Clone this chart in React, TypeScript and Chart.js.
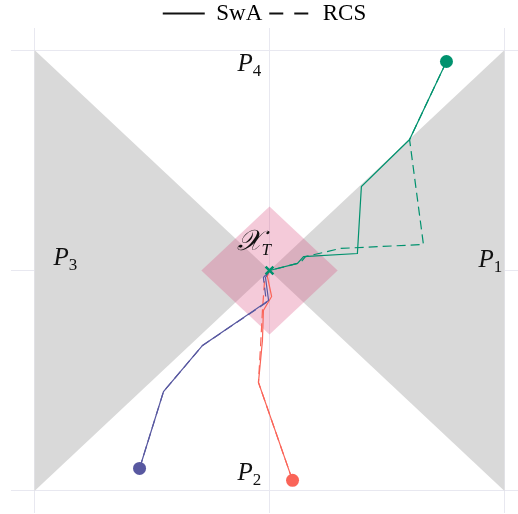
import React, { useEffect, useRef } from 'react';
import { Chart, registerables } from 'chart.js';

Chart.register(...registerables);

// ---- data ----
const legendNames = ['SwA', 'RCS'];
const gridTicks = [-1, 0, 1];

const leftWedge = [{ x: -1, y: 1 }, { x: 0, y: 0 }, { x: -1, y: -1 }];
const rightWedge = [{ x: 1, y: 1 }, { x: 0, y: 0 }, { x: 1, y: -1 }];
const targetSet = [{ x: 0, y: 0.29 }, { x: 0.29, y: 0 }, { x: 0, y: -0.29 }, { x: -0.29, y: 0 }];

const greenSwA = [
  { x: 0.753, y: 0.948 }, { x: 0.596, y: 0.594 }, { x: 0.391, y: 0.381 }, { x: 0.374, y: 0.077 },
  { x: 0.145, y: 0.063 }, { x: 0.119, y: 0.032 }, { x: 0, y: 0 },
];
const greenRCS = [
  { x: 0.753, y: 0.948 }, { x: 0.596, y: 0.594 }, { x: 0.655, y: 0.118 }, { x: 0.302, y: 0.1 },
  { x: 0.153, y: 0.063 }, { x: 0.132, y: 0.036 }, { x: 0, y: 0 },
];
const purpleSwA = [
  { x: -0.553, y: -0.898 }, { x: -0.451, y: -0.549 }, { x: -0.285, y: -0.34 }, { x: -0.004, y: -0.136 },
  { x: -0.017, y: -0.032 }, { x: 0, y: 0 },
];
const purpleRCS = [
  { x: -0.553, y: -0.898 }, { x: -0.451, y: -0.549 }, { x: -0.285, y: -0.34 }, { x: -0.013, y: -0.145 },
  { x: -0.026, y: -0.032 }, { x: 0, y: 0 },
];
const redSwA = [
  { x: 0.098, y: -0.952 }, { x: -0.047, y: -0.508 }, { x: -0.03, y: -0.317 }, { x: -0.026, y: -0.181 },
  { x: 0.009, y: -0.118 }, { x: -0.009, y: -0.027 }, { x: 0, y: 0 },
];
const redRCS = [
  { x: 0.098, y: -0.952 }, { x: -0.047, y: -0.508 }, { x: -0.038, y: -0.34 }, { x: -0.03, y: -0.181 },
  { x: -0.021, y: -0.045 }, { x: 0, y: 0 },
];
const startPoints = [{ x: 0.753, y: 0.948 }, { x: -0.553, y: -0.898 }, { x: 0.098, y: -0.952 }];
const targetPoint = [{ x: 0, y: 0 }];

const regionLabels = [
  { main: 'P', sub: '1', x: 0.889, y: 0.018, size: 25 },
  { main: 'P', sub: '2', x: -0.136, y: -0.952, size: 25 },
  { main: 'P', sub: '3', x: -0.919, y: 0.023, size: 25 },
  { main: 'P', sub: '4', x: -0.136, y: 0.907, size: 25 },
  { main: '\u{1D4B3}', sub: 'T', x: -0.14, y: 0.091, size: 29 },
];

const GREEN = 'rgb(0,146,110)';
const PURPLE = 'rgb(88,88,160)';
const RED = 'rgb(250,100,88)';
const GRAY = 'rgb(217,217,217)';
const PINK = 'rgba(220,80,130,0.3)';
const GRID = 'rgb(232,232,240)';

const labelPlugin = {
  id: 'regionLabels',
  afterDatasetsDraw(chart: any) {
    const { ctx, scales } = chart;
    ctx.save();
    ctx.fillStyle = '#111';
    ctx.textBaseline = 'alphabetic';
    ctx.textAlign = 'left';
    for (const l of regionLabels) {
      const px = scales.x.getPixelForValue(l.x);
      const py = scales.y.getPixelForValue(l.y);
      ctx.font = `italic ${l.size}px "Liberation Serif", serif`;
      ctx.fillText(l.main, px, py);
      const w = ctx.measureText(l.main).width;
      ctx.font = (l.sub === 'T' ? 'italic ' : '') + '17px "Liberation Serif", serif';
      ctx.fillText(l.sub, px + w, py + 5);
    }
    ctx.restore();
  },
};

// keep the legend compact: fixed box height and a small upward shift
const legendFitPlugin = {
  id: 'legendFit',
  afterInit(chart: any) {
    const lg = chart.legend;
    if (!lg) return;
    const orig = lg.fit.bind(lg);
    lg.fit = function () {
      orig();
      this.height = 28;
    };
  },
  afterLayout(chart: any) {
    if (chart.legend) chart.legend.top = -5;
  },
};

export default function App() {
  const ref = useRef<HTMLCanvasElement | null>(null);
  useEffect(() => {
    if (!ref.current) return;
    const lineDs = (data: any[], color: string, dashed: boolean) => ({
      data,
      showLine: true,
      borderColor: color,
      backgroundColor: color,
      borderWidth: 1.2,
      borderDash: dashed ? [9, 5] : [],
      pointRadius: 0,
      fill: false,
      tension: 0,
      order: 1,
    });
    const shapeDs = (data: any[], color: string, order: number) => ({
      data,
      showLine: true,
      fill: 'shape',
      backgroundColor: color,
      borderWidth: 0,
      borderColor: 'transparent',
      pointRadius: 0,
      order,
    });
    const chart = new Chart(ref.current, {
      type: 'scatter',
      data: {
        datasets: [
          {
            data: targetPoint,
            pointStyle: 'crossRot',
            pointRadius: 5.5,
            borderWidth: 2.5,
            borderColor: GREEN,
            backgroundColor: GREEN,
            order: 0,
          } as any,
          {
            data: startPoints,
            pointRadius: 6.5,
            borderWidth: 0,
            backgroundColor: [GREEN, PURPLE, RED],
            borderColor: [GREEN, PURPLE, RED],
            order: 0,
          } as any,
          lineDs(greenSwA, GREEN, false),
          lineDs(greenRCS, GREEN, true),
          lineDs(purpleSwA, PURPLE, false),
          lineDs(purpleRCS, PURPLE, true),
          lineDs(redSwA, RED, false),
          lineDs(redRCS, RED, true),
          shapeDs(targetSet, PINK, 5) as any,
          shapeDs(leftWedge, GRAY, 6) as any,
          shapeDs(rightWedge, GRAY, 6) as any,
        ],
      },
      options: {
        animation: false,
        responsive: false,
        devicePixelRatio: 1,
        layout: { autoPadding: false, padding: { left: 11, right: 0, top: 0, bottom: 1 } },
        plugins: {
          tooltip: { enabled: false },
          legend: {
            display: true,
            position: 'top',
            onClick: () => {},
            labels: {
              usePointStyle: true,
              pointStyleWidth: 42,
              boxHeight: 23,
              padding: 7,
              color: '#111',
              font: { family: '"Liberation Serif", serif', size: 23 },
              generateLabels: () =>
                legendNames.map((name, i) => ({
                  text: name,
                  fillStyle: 'transparent',
                  strokeStyle: '#111',
                  lineWidth: 2,
                  lineDash: i === 0 ? [] : [14, 11],
                  pointStyle: 'line',
                  hidden: false,
                  datasetIndex: i,
                })) as any,
            },
          },
        },
        scales: {
          x: {
            type: 'linear',
            min: -1.1,
            max: 1.0574,
            afterBuildTicks: (s: any) => {
              s.ticks = gridTicks.map((v) => ({ value: v }));
            },
            ticks: { display: false },
            grid: { color: GRID, drawTicks: false, lineWidth: 1 },
            border: { display: false },
          },
          y: {
            type: 'linear',
            min: -1.1,
            max: 1.1,
            afterBuildTicks: (s: any) => {
              s.ticks = gridTicks.map((v) => ({ value: v }));
            },
            ticks: { display: false },
            grid: { color: GRID, drawTicks: false, lineWidth: 1 },
            border: { display: false },
          },
        },
      },
      plugins: [legendFitPlugin, labelPlugin],
    });
    return () => chart.destroy();
  }, []);
  return (
    <div style={{ position: 'fixed', left: 0, top: 0, width: 518, height: 514, background: '#fff' }}>
      <canvas ref={ref} width={518} height={514} style={{ display: 'block' }} />
    </div>
  );
}
